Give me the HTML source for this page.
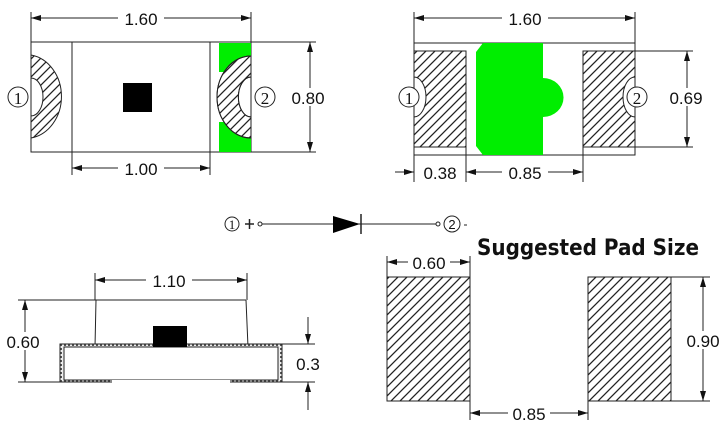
<!DOCTYPE html>
<html><head><style>
html,body{margin:0;padding:0;background:#fff;}
svg{display:block;}
text{font-family:"Liberation Sans",sans-serif;fill:#111;}
</style></head><body>
<svg width="725" height="434" viewBox="0 0 725 434" xmlns="http://www.w3.org/2000/svg">
<defs>
<pattern id="h" width="9" height="9" patternUnits="userSpaceOnUse">
<path d="M-1,1 L1,-1 M0,9 L9,0 M8,10 L10,8" stroke="#222" stroke-width="1.3"/>
</pattern>
<pattern id="hs" width="4" height="4" patternUnits="userSpaceOnUse">
<rect width="4" height="4" fill="#eee"/><rect width="2" height="2" fill="#555"/>
</pattern>
<marker id="a" viewBox="0 0 10 6" refX="10" refY="3" markerWidth="10" markerHeight="6" orient="auto-start-reverse" markerUnits="userSpaceOnUse">
<path d="M0,0 L10,3 L0,6 Z" fill="#111"/>
</marker>
</defs>
<g stroke="#222" stroke-width="1" fill="none">
<line x1="31" y1="12" x2="31" y2="152"/><line x1="251" y1="12" x2="251" y2="152"/>
<line x1="31" y1="18" x2="251" y2="18" marker-start="url(#a)" marker-end="url(#a)"/>
<rect x="31" y="42" width="220" height="110"/>
<line x1="72" y1="42" x2="72" y2="175"/><line x1="210" y1="42" x2="210" y2="175"/>
<line x1="72" y1="168" x2="210" y2="168" marker-start="url(#a)" marker-end="url(#a)"/>
<line x1="251" y1="42" x2="316" y2="42"/><line x1="251" y1="152" x2="316" y2="152"/>
<line x1="310" y1="42" x2="310" y2="152" marker-start="url(#a)" marker-end="url(#a)"/>
</g>
<path d="M31,55 A36,42 0 0 1 31,138 L31,116 A12,19 0 0 0 31,78 Z" fill="url(#h)" stroke="#222"/>
<rect x="219" y="43" width="32" height="29" fill="#00ee00"/>
<rect x="219" y="122" width="32" height="30" fill="#00ee00"/>
<path d="M251,56 A34,41 0 0 0 251,138 L251,117 A12,19 0 0 1 251,77 Z" fill="#fff" stroke="#222"/>
<path d="M251,56 A34,41 0 0 0 251,138 L251,117 A12,19 0 0 1 251,77 Z" fill="url(#h)" stroke="#222"/>
<rect x="123" y="83" width="29" height="29" fill="#000"/>
<g stroke="#222" fill="none"><circle cx="18" cy="97" r="10"/><circle cx="265" cy="97" r="10"/></g>
<text x="18" y="104" font-size="17" text-anchor="middle" style="font-family:'Liberation Serif',serif">1</text>
<text x="265" y="104" font-size="17" text-anchor="middle" style="font-family:'Liberation Serif',serif">2</text>
<rect x="118" y="8" width="46" height="20" fill="#fff"/>
<text x="141" y="25" font-size="17" text-anchor="middle">1.60</text>
<rect x="118" y="159" width="46" height="18" fill="#fff"/>
<text x="141" y="175" font-size="17" text-anchor="middle">1.00</text>
<rect x="289" y="88" width="38" height="18" fill="#fff"/>
<text x="308" y="104" font-size="17" text-anchor="middle">0.80</text>

<g stroke="#222" fill="none">
<line x1="414" y1="12" x2="414" y2="182"/><line x1="635" y1="12" x2="635" y2="155"/>
<line x1="414" y1="18" x2="635" y2="18" marker-start="url(#a)" marker-end="url(#a)"/>
<rect x="414" y="43" width="221" height="112"/>
<line x1="466" y1="147" x2="466" y2="182"/><line x1="583" y1="147" x2="583" y2="182"/>
<line x1="635" y1="51" x2="693" y2="51"/><line x1="635" y1="147" x2="693" y2="147"/>
<line x1="687" y1="51" x2="687" y2="147" marker-start="url(#a)" marker-end="url(#a)"/>
<line x1="395" y1="172" x2="414" y2="172" marker-end="url(#a)"/>
<line x1="466" y1="172" x2="583" y2="172" marker-start="url(#a)" marker-end="url(#a)"/>
</g>
<path d="M414,51 H466 V147 H414 V117 A12,20 0 0 0 414,77 Z" fill="url(#h)" stroke="#222"/>
<path d="M583,51 H635 V77 A12,20 0 0 0 635,117 V147 H583 Z" fill="url(#h)" stroke="#222"/>
<path d="M483,43 H543 V78 A20,19 0 0 1 543,117 V155 H483 L476,146 V52 Z" fill="#00ee00"/>
<g stroke="#222" fill="#fff"><circle cx="409" cy="97" r="10"/><circle cx="637" cy="97" r="10"/></g>
<text x="409" y="104" font-size="17" text-anchor="middle" style="font-family:'Liberation Serif',serif">1</text>
<text x="637" y="104" font-size="17" text-anchor="middle" style="font-family:'Liberation Serif',serif">2</text>
<rect x="502" y="8" width="46" height="20" fill="#fff"/>
<text x="525" y="25" font-size="17" text-anchor="middle">1.60</text>
<rect x="667" y="88" width="40" height="18" fill="#fff"/>
<text x="686" y="104" font-size="17" text-anchor="middle">0.69</text>
<text x="440" y="179" font-size="17" text-anchor="middle">0.38</text>
<rect x="502" y="163" width="46" height="18" fill="#fff"/>
<text x="525" y="179" font-size="17" text-anchor="middle">0.85</text>

<g stroke="#222" fill="none">
<circle cx="232" cy="224" r="7"/>
<line x1="245" y1="224" x2="254" y2="224" stroke-width="1.5"/><line x1="249.5" y1="219" x2="249.5" y2="229" stroke-width="1.5"/>
<circle cx="260" cy="224" r="2"/>
<line x1="262" y1="224" x2="436" y2="224"/>
<line x1="361" y1="214" x2="361" y2="234" stroke-width="1.5"/>
<circle cx="438" cy="224" r="2"/>
<circle cx="452" cy="224" r="8"/>
<line x1="464" y1="225" x2="467" y2="225"/>
</g>
<path d="M333,216 L360,224 L333,233 Z" fill="#000"/>
<text x="232" y="229" font-size="13" text-anchor="middle" style="font-family:'Liberation Serif',serif">1</text>
<text x="452" y="229" font-size="13" text-anchor="middle">2</text>

<g stroke="#222" fill="none">
<line x1="95" y1="273" x2="95" y2="300"/><line x1="247" y1="273" x2="247" y2="300"/>
<line x1="95" y1="280" x2="247" y2="280" marker-start="url(#a)" marker-end="url(#a)"/>
<line x1="18" y1="300" x2="246" y2="300"/><line x1="18" y1="382" x2="60" y2="382"/>
<line x1="25" y1="300" x2="25" y2="382" marker-start="url(#a)" marker-end="url(#a)"/>
<path d="M96,300 L95,347 M246,300 L248,347"/>
</g>
<rect x="60" y="344" width="222" height="38" fill="url(#hs)" stroke="#222"/>
<rect x="64" y="347" width="214" height="33" fill="#fff" stroke="#222"/>
<rect x="112" y="380" width="118" height="3" fill="#fff"/>
<rect x="153" y="326" width="34" height="21" fill="#000"/>
<g stroke="#222" fill="none">
<line x1="282" y1="344" x2="315" y2="344"/><line x1="282" y1="382" x2="315" y2="382"/>
<line x1="308" y1="317" x2="308" y2="344" marker-end="url(#a)"/>
<line x1="308" y1="410" x2="308" y2="382" marker-end="url(#a)"/>
</g>
<rect x="146" y="270" width="46" height="20" fill="#fff"/>
<text x="169" y="287" font-size="17" text-anchor="middle">1.10</text>
<rect x="4" y="332" width="42" height="18" fill="#fff"/>
<text x="23" y="348" font-size="17" text-anchor="middle">0.60</text>
<text x="308" y="370" font-size="17" text-anchor="middle">0.3</text>

<text x="477" y="255" font-size="22" font-weight="bold" style="font-family:'DejaVu Sans','Liberation Sans',sans-serif" textLength="222" lengthAdjust="spacingAndGlyphs">Suggested Pad Size</text>
<rect x="387" y="277" width="83" height="124" fill="url(#h)" stroke="#222"/>
<rect x="588" y="277" width="83" height="124" fill="url(#h)" stroke="#222"/>
<g stroke="#222" fill="none">
<line x1="387" y1="256" x2="387" y2="277"/><line x1="470" y1="256" x2="470" y2="277"/>
<line x1="387" y1="262" x2="470" y2="262" marker-start="url(#a)" marker-end="url(#a)"/>
<line x1="470" y1="401" x2="470" y2="420"/><line x1="588" y1="401" x2="588" y2="420"/>
<line x1="470" y1="413" x2="588" y2="413" marker-start="url(#a)" marker-end="url(#a)"/>
<line x1="671" y1="277" x2="710" y2="277"/><line x1="671" y1="401" x2="710" y2="401"/>
<line x1="703" y1="277" x2="703" y2="401" marker-start="url(#a)" marker-end="url(#a)"/>
</g>
<rect x="408" y="254" width="42" height="17" fill="#fff"/>
<text x="429" y="269" font-size="17" text-anchor="middle">0.60</text>
<rect x="508" y="404" width="42" height="18" fill="#fff"/>
<text x="529" y="420" font-size="17" text-anchor="middle">0.85</text>
<rect x="683" y="331" width="40" height="18" fill="#fff"/>
<text x="703" y="347" font-size="17" text-anchor="middle">0.90</text>
</svg>
</body></html>
